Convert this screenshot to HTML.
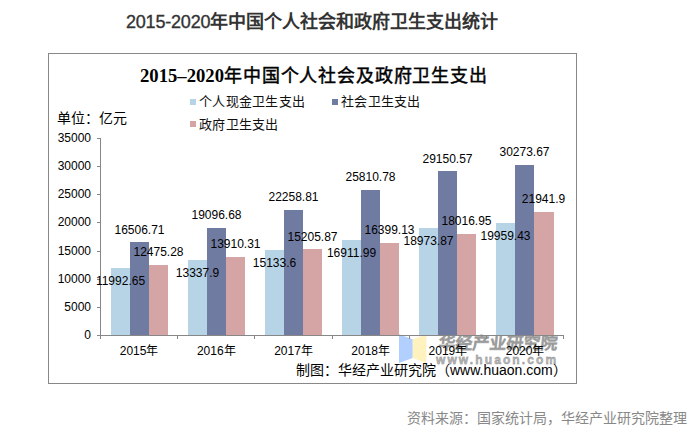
<!DOCTYPE html>
<html lang="zh-CN"><head><meta charset="utf-8"><style>
html,body{margin:0;padding:0;background:#fff;width:699px;height:433px;overflow:hidden;position:relative}
body{font-family:"Liberation Sans",sans-serif;}
div{position:absolute;white-space:nowrap}
.title{left:126px;top:9.7px;font-size:18px;font-weight:bold;color:#333;line-height:24px}
.box{left:48px;top:53px;width:527px;height:329px;border:1px solid #888}
.ctitle{left:140px;top:64px;font-family:"Liberation Serif",serif;font-weight:bold;font-size:18.67px;line-height:24px;color:#000}
.lg{font-size:13px;letter-spacing:0.3px;line-height:16px;color:#111}
.sq{width:6px;height:6px}
.unit{left:57px;top:109px;font-size:14px;line-height:18px;color:#000}
.yl{left:40px;width:51px;text-align:right;font-size:12px;line-height:14px;color:#000}
.ln{background:#878787}
.bar{}
.dl{width:80px;text-align:center;font-size:12px;line-height:14px;color:#000}
.xl{top:344.2px;width:77.2px;text-align:center;font-size:12px;line-height:14px;color:#000}
.credit{left:296px;top:361px;font-size:14px;line-height:18px;color:#000}
.src{left:407px;top:409px;font-size:14px;line-height:18px;color:#888}
.wm1{left:437px;top:332.8px;font-size:16.8px;font-weight:bold;transform:skewX(-6deg);transform-origin:0 100%;color:rgba(110,110,110,0.45);-webkit-text-stroke:0.7px rgba(110,110,110,0.45);line-height:22px}
.wm2{left:436px;top:352.8px;font-size:12px;font-weight:bold;letter-spacing:2.1px;color:rgba(110,110,110,0.45);line-height:14px;-webkit-text-stroke:0.8px rgba(110,110,110,0.45)}
</style></head><body>
<div class="title"><span style="font-weight:normal;letter-spacing:-0.2px;-webkit-text-stroke:0.35px #333">2015-2020</span>年中国个人社会和政府卫生支出统计</div>
<div class="box"></div>
<div class="ctitle">2015–2020<span style="font-weight:normal;font-size:18px;letter-spacing:0.85px;-webkit-text-stroke:0.45px #000">年中国个人社会及政府卫生支出</span></div>
<div class="sq" style="left:190px;top:99px;background:#b7d3e6"></div>
<div class="lg" style="left:199px;top:93.5px">个人现金卫生支出</div>
<div class="sq" style="left:332px;top:99px;background:#707ba2"></div>
<div class="lg" style="left:341px;top:93.5px">社会卫生支出</div>
<div class="sq" style="left:190px;top:121px;background:#d5a5a6"></div>
<div class="lg" style="left:199px;top:116.5px">政府卫生支出</div>
<div class="unit">单位：亿元</div>
<svg style="position:absolute;left:0;top:0" width="699" height="433"><polygon points="399,334.3 412.7,339.3 412.7,358 399,363" fill="rgba(165,200,255,0.85)"/><polygon points="412.7,339.3 426.4,334.3 426.4,363 412.7,358" fill="rgba(255,240,180,0.85)"/></svg>
<div class="wm1">华经产业研究院</div>
<div class="wm2">www.huaon.com</div>
<div class="bar" style="left:111.00px;top:267.50px;width:19.0px;height:67.50px;background:#b7d3e6"></div><div class="bar" style="left:130.00px;top:242.09px;width:19.0px;height:92.91px;background:#707ba2"></div><div class="bar" style="left:149.00px;top:264.78px;width:19.0px;height:70.22px;background:#d5a5a6"></div><div class="bar" style="left:188.00px;top:259.93px;width:19.0px;height:75.07px;background:#b7d3e6"></div><div class="bar" style="left:207.00px;top:227.51px;width:19.0px;height:107.49px;background:#707ba2"></div><div class="bar" style="left:226.00px;top:256.70px;width:19.0px;height:78.30px;background:#d5a5a6"></div><div class="bar" style="left:265.00px;top:249.82px;width:19.0px;height:85.18px;background:#b7d3e6"></div><div class="bar" style="left:284.00px;top:209.71px;width:19.0px;height:125.29px;background:#707ba2"></div><div class="bar" style="left:303.00px;top:249.41px;width:19.0px;height:85.59px;background:#d5a5a6"></div><div class="bar" style="left:342.00px;top:239.81px;width:19.0px;height:95.19px;background:#b7d3e6"></div><div class="bar" style="left:361.00px;top:189.72px;width:19.0px;height:145.28px;background:#707ba2"></div><div class="bar" style="left:380.00px;top:242.70px;width:19.0px;height:92.30px;background:#d5a5a6"></div><div class="bar" style="left:419.00px;top:228.20px;width:19.0px;height:106.80px;background:#b7d3e6"></div><div class="bar" style="left:438.00px;top:170.92px;width:19.0px;height:164.08px;background:#707ba2"></div><div class="bar" style="left:457.00px;top:233.59px;width:19.0px;height:101.41px;background:#d5a5a6"></div><div class="bar" style="left:496.00px;top:222.66px;width:19.0px;height:112.34px;background:#b7d3e6"></div><div class="bar" style="left:515.00px;top:164.60px;width:19.0px;height:170.40px;background:#707ba2"></div><div class="bar" style="left:534.00px;top:211.50px;width:19.7px;height:123.50px;background:#d5a5a6"></div>
<div class="yl" style="top:328.00px">0</div><div class="ln" style="left:97px;top:335px;width:3.5px;height:1px"></div><div class="yl" style="top:299.86px">5000</div><div class="ln" style="left:97px;top:307px;width:3.5px;height:1px"></div><div class="yl" style="top:271.71px">10000</div><div class="ln" style="left:97px;top:279px;width:3.5px;height:1px"></div><div class="yl" style="top:243.57px">15000</div><div class="ln" style="left:97px;top:251px;width:3.5px;height:1px"></div><div class="yl" style="top:215.43px">20000</div><div class="ln" style="left:97px;top:222px;width:3.5px;height:1px"></div><div class="yl" style="top:187.29px">25000</div><div class="ln" style="left:97px;top:194px;width:3.5px;height:1px"></div><div class="yl" style="top:159.14px">30000</div><div class="ln" style="left:97px;top:166px;width:3.5px;height:1px"></div><div class="yl" style="top:131.00px">35000</div><div class="ln" style="left:97px;top:138px;width:3.5px;height:1px"></div><div class="ln" style="left:100px;top:138px;width:1px;height:200px"></div><div class="ln" style="left:100px;top:335px;width:464px;height:1px"></div><div class="ln" style="left:100.00px;top:335.0px;width:1px;height:3.5px"></div><div class="ln" style="left:177.20px;top:335.0px;width:1px;height:3.5px"></div><div class="ln" style="left:254.40px;top:335.0px;width:1px;height:3.5px"></div><div class="ln" style="left:331.60px;top:335.0px;width:1px;height:3.5px"></div><div class="ln" style="left:408.80px;top:335.0px;width:1px;height:3.5px"></div><div class="ln" style="left:486.00px;top:335.0px;width:1px;height:3.5px"></div><div class="ln" style="left:563.20px;top:335.0px;width:1px;height:3.5px"></div><div class="xl" style="left:100.50px">2015年</div><div class="xl" style="left:177.70px">2016年</div><div class="xl" style="left:254.90px">2017年</div><div class="xl" style="left:332.10px">2018年</div><div class="xl" style="left:409.30px">2019年</div><div class="xl" style="left:486.50px">2020年</div>
<div class="dl" style="left:80.50px;top:273.70px">11992.65</div><div class="dl" style="left:99.50px;top:222.69px">16506.71</div><div class="dl" style="left:118.50px;top:245.38px">12475.28</div><div class="dl" style="left:157.50px;top:266.13px">13337.9</div><div class="dl" style="left:176.50px;top:208.11px">19096.68</div><div class="dl" style="left:195.50px;top:237.30px">13910.31</div><div class="dl" style="left:234.50px;top:256.02px">15133.6</div><div class="dl" style="left:253.50px;top:190.31px">22258.81</div><div class="dl" style="left:272.50px;top:230.01px">15205.87</div><div class="dl" style="left:311.50px;top:246.01px">16911.99</div><div class="dl" style="left:330.50px;top:170.32px">25810.78</div><div class="dl" style="left:349.50px;top:223.30px">16399.13</div><div class="dl" style="left:388.50px;top:234.40px">18973.87</div><div class="dl" style="left:407.50px;top:151.52px">29150.57</div><div class="dl" style="left:426.50px;top:214.19px">18016.95</div><div class="dl" style="left:465.50px;top:228.86px">19959.43</div><div class="dl" style="left:484.50px;top:145.20px">30273.67</div><div class="dl" style="left:503.50px;top:192.10px">21941.9</div>
<div class="credit">制图：华经产业研究院（www.huaon.com）</div>
<div class="src">资料来源：国家统计局，华经产业研究院整理</div>
</body></html>
